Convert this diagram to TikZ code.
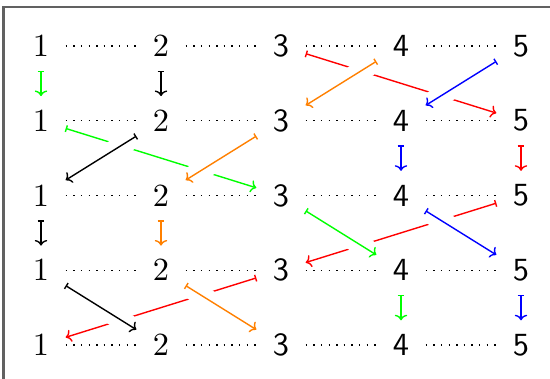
\documentclass[tikz,border=0pt]{standalone}
\usetikzlibrary{arrows.meta}
\begin{document}
\begin{tikzpicture}[x=0.322pt, y=-0.322pt,
  num/.style={inner sep=0pt, minimum width=15.5pt, minimum height=15.5pt, font=\fontsize{10.4}{12}\selectfont},
  sfnum/.style={num, font=\fontsize{10.4}{12}\sffamily},
  link/.style={dotted, line width=0.45pt},
  braid/.style={line width=0.45pt, {Bar[width=2.2pt]}-{To[length=1.8pt,width=4pt]}},
  over/.style={preaction={draw=white, line width=6.45pt, arrows=-}}]
\path[use as bounding box, clip] (0,0) rectangle (550,379);
% outer frame
\draw[black!62, line width=0.65pt] (3.5,7.5) rectangle (600,420);

% five rows of strands 1..5
\foreach \r/\y in {1/46,2/120.75,3/195.5,4/270.25,5/345} {
  \node[num]   (n\r1) at (41,\y)  {1};
  \node[num]   (n\r2) at (161,\y) {2};
  \node[sfnum] (n\r3) at (281,\y) {3};
  \node[sfnum] (n\r4) at (401,\y) {4};
  \node[sfnum] (n\r5) at (521,\y) {5};
  \draw[link] (n\r1) -- (n\r2);
  \draw[link] (n\r2) -- (n\r3);
  \draw[link] (n\r3) -- (n\r4);
  \draw[link] (n\r4) -- (n\r5);
}

% row 1 -> row 2
\draw[braid, green]  (n11) -- (n21);
\draw[braid, black]  (n12) -- (n22);
\draw[braid, red]    (n13) -- (n25);
\draw[braid, orange, over] (n14) -- (n23);
\draw[braid, blue, over]   (n15) -- (n24);

% row 2 -> row 3
\draw[braid, blue]   (n24) -- (n34);
\draw[braid, red]    (n25) -- (n35);
\draw[braid, green]  (n21) -- (n33);
\draw[braid, black, over]  (n22) -- (n31);
\draw[braid, orange, over] (n23) -- (n32);

% row 3 -> row 4
\draw[braid, black]  (n31) -- (n41);
\draw[braid, orange] (n32) -- (n42);
\draw[braid, red]    (n35) -- (n43);
\draw[braid, green, over] (n33) -- (n44);
\draw[braid, blue, over]  (n34) -- (n45);

% row 4 -> row 5
\draw[braid, green]  (n44) -- (n54);
\draw[braid, blue]   (n45) -- (n55);
\draw[braid, red]    (n43) -- (n51);
\draw[braid, black, over]  (n41) -- (n52);
\draw[braid, orange, over] (n42) -- (n53);
\end{tikzpicture}
\end{document}
